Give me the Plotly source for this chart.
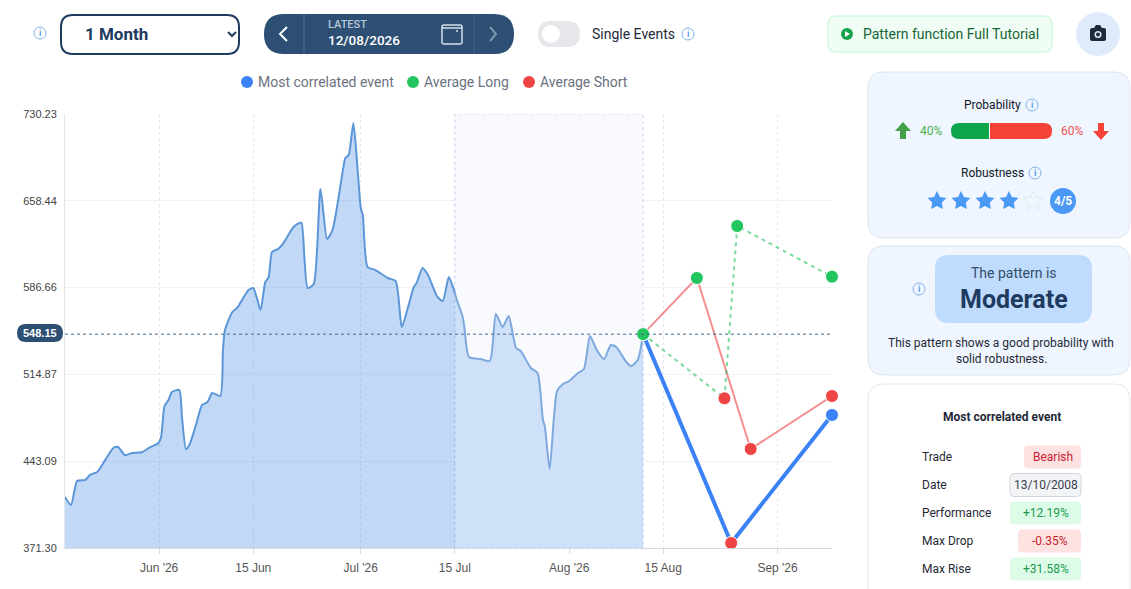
import math
import pandas as pd
import plotly.graph_objects as go

W, H = 1131, 589

start_date = pd.Timestamp('2026-05-18')
split_day = 58.0  # 15 Jul, start of the pattern window
end_day = 114.1
last_price = 548.15

# price history, days since start_date
price_days = [0, 0.9, 1.8, 3.0, 3.7, 4.8, 5.7, 7.2, 7.9, 8.9, 10.0, 11.5, 12.7, 13.9, 14.3, 14.8, 15.4, 15.9,
              17.0, 17.4, 18.0, 18.5, 19.4, 20.4, 21.2, 21.9, 23.1, 23.5, 23.8, 24.9, 25.6, 27.3, 28.0, 28.5,
              29.1, 29.8, 30.3, 30.8, 31.7, 32.5, 34.0, 34.9, 35.2, 36.1, 37.0, 38.0, 39.0, 39.8, 41.3, 41.7,
              42.2, 42.9, 43.5, 44.0, 44.3, 45.0, 46.2, 48.0, 49.2, 50.1, 51.0, 51.9, 52.3, 53.2, 54.0, 55.4,
              56.2, 57.1, 57.7, 58.0, 58.3, 59.2, 59.4, 60.1, 61.8, 63.2, 64.1, 65.1, 66.0, 67.1, 67.8, 69.3,
              70.3, 71.1, 71.4, 72.1, 73.2, 74.1, 75.0, 76.3, 77.2, 78.1, 79.1, 80.2, 81.2, 82.0, 83.5, 84.2,
              85.2, 86.0]
price_values = [413.5, 406.9, 426.7, 427.5, 431.7, 434.2, 441.6, 454.0, 454.8, 448.2, 449.9, 450.7, 454.8, 458.1,
                463.1, 488.7, 493.7, 500.3, 502.0, 479.6, 453.2, 456.5, 471.4, 489.6, 492.0, 499.5, 497.0, 535.1,
                551.6, 566.5, 569.8, 584.7, 586.3, 578.9, 568.1, 591.3, 595.4, 616.1, 618.6, 623.5, 636.8, 640.1,
                640.1, 586.3, 589.6, 668.2, 626.9, 634.3, 682.3, 693.8, 696.3, 722.8, 686.4, 652.5, 646.7, 603.7,
                601.2, 594.6, 592.1, 554.1, 569.8, 587.2, 590.5, 602.9, 597.1, 578.9, 575.6, 595.4, 587.2, 582.0,
                576.4, 561.5, 554.1, 529.3, 527.6, 526.0, 564.8, 554.1, 563.2, 536.7, 534.2, 520.2, 516.0, 477.2,
                471.4, 436.6, 501.2, 506.9, 509.4, 516.0, 519.3, 546.6, 535.1, 527.6, 539.2, 537.5, 525.1, 521.8,
                526.8, 548.15]

# projected paths
event_days = [86.0, 99.1, 114.1]
event_values = [548.15, 375.4, 481.3]
event_kinds = ['long', 'short', 'event']
short_days = [86.0, 94.0, 102.0, 114.1]
short_values = [548.15, 594.6, 453.2, 497.0]
short_kinds = ['long', 'long', 'short', 'short']
long_days = [86.0, 98.1, 100.0, 114.1]
long_values = [548.15, 495.1, 637.6, 595.7]
long_kinds = ['long', 'short', 'long', 'long']

y_ticks = [371.30, 443.09, 514.87, 586.66, 658.44, 730.23]
x_tick_dates = ['2026-06-01', '2026-06-15', '2026-07-01', '2026-07-15', '2026-08-01', '2026-08-15', '2026-09-01']
x_tick_labels = ["Jun '26", '15 Jun', "Jul '26", '15 Jul', "Aug '26", '15 Aug', "Sep '26"]

legend_names = ['Most correlated event', 'Average Long', 'Average Short']
row_labels = ['Trade', 'Date', 'Performance', 'Max Drop', 'Max Rise']
row_values = ['Bearish', '13/10/2008', '+12.19%', '-0.35%', '+31.58%']

BLUE = '#3b82f6'
GREEN = '#22c55e'
RED = '#ef4444'
NAVY = '#2c4f73'
kind_colors = {'event': BLUE, 'long': GREEN, 'short': RED}


def to_dates(days):
    return [start_date + pd.Timedelta(days=d) for d in days]


def px(x):
    return x / W


def py(y):
    return 1 - y / H


shapes = []
annotations = []


def rrect(x0, y0, x1, y1, r, fill, line=None, width=1):
    # rounded box, given in page pixels
    p = (f'M{px(x0 + r)},{py(y0)} L{px(x1 - r)},{py(y0)} Q{px(x1)},{py(y0)} {px(x1)},{py(y0 + r)} '
         f'L{px(x1)},{py(y1 - r)} Q{px(x1)},{py(y1)} {px(x1 - r)},{py(y1)} '
         f'L{px(x0 + r)},{py(y1)} Q{px(x0)},{py(y1)} {px(x0)},{py(y1 - r)} '
         f'L{px(x0)},{py(y0 + r)} Q{px(x0)},{py(y0)} {px(x0 + r)},{py(y0)} Z')
    shapes.append(dict(type='path', path=p, xref='paper', yref='paper', fillcolor=fill,
                       line=dict(color=line or 'rgba(0,0,0,0)', width=width if line else 0)))


def circle(cx, cy, r, fill='rgba(0,0,0,0)', line=None, width=1):
    shapes.append(dict(type='circle', xref='paper', yref='paper', x0=px(cx - r), x1=px(cx + r),
                       y0=py(cy + r), y1=py(cy - r), fillcolor=fill,
                       line=dict(color=line or 'rgba(0,0,0,0)', width=width if line else 0)))


def poly(points, fill='rgba(0,0,0,0)', line=None, width=1, close=True):
    p = 'M' + ' L'.join(f'{px(x)},{py(y)}' for x, y in points) + (' Z' if close else '')
    shapes.append(dict(type='path', path=p, xref='paper', yref='paper', fillcolor=fill,
                       line=dict(color=line or 'rgba(0,0,0,0)', width=width if line else 0)))


def text(x, y, s, size=12, color='#1f2937', anchor='center', weight=400, family='Roboto'):
    if anchor == 'left':
        x -= 1  # annotations keep a pixel of padding
    annotations.append(dict(x=px(x), y=py(y), xref='paper', yref='paper', text=s, showarrow=False,
                            xanchor=anchor, yanchor='middle', borderpad=0,
                            font=dict(size=size, color=color, family=family, weight=weight)))


def info(cx, cy):
    circle(cx, cy, 6, line='#7fb2ea', width=1)
    text(cx, cy, 'i', size=9, color='#5f9fe6', weight=700)


def star(cx, cy, r, fill, line=None):
    pts = []
    for i in range(10):
        rad = r if i % 2 == 0 else r * 0.5
        a = -math.pi / 2 + i * math.pi / 5
        pts.append((cx + rad * math.cos(a), cy + rad * math.sin(a)))
    poly(pts, fill=fill, line=line)


# top bar
info(40, 33)
rrect(61, 15, 239, 54, 12, 'white', line='#1e3a5f', width=2)
text(85, 34, '1 Month', size=17, color='#1e3a5f', anchor='left', weight=700)
poly([(228, 32), (232, 36), (236, 32)], line='#1e3a5f', width=2, close=False)

rrect(264, 14, 514, 54, 20, NAVY)
poly([(304, 14), (304, 54)], line='#44678a')
poly([(474, 14), (474, 54)], line='#3a5c80')
poly([(287, 27), (280, 34), (287, 41)], line='white', width=2, close=False)
poly([(490, 27), (496, 34), (490, 41)], line='#7f97b0', width=2, close=False)
text(328, 25, 'LATEST', size=11, color='#b9c9da', anchor='left', weight=500)
text(328, 40, '12/08/2026', size=13.5, color='white', anchor='left', weight=500)
rrect(442, 25, 462, 44, 2, 'rgba(0,0,0,0)', line='#d5dfea', width=1.5)
poly([(442, 28), (462, 28)], line='#d5dfea', width=1.5)
circle(457, 31, 1, fill='#d5dfea')

rrect(538, 21, 580, 47, 13, '#e5e7eb')
circle(551, 34, 9, fill='white')
text(592, 34, 'Single Events', size=14, color='#1f2937', anchor='left')
info(688, 34)

rrect(828, 16, 1052, 52, 8, '#f0fdf4', line='#bbf7d0')
circle(847, 34, 6, fill='#16a34a')
poly([(845, 31), (850, 34), (845, 37)], fill='white')
text(863, 34, 'Pattern function Full Tutorial', size=14, color='#166534', anchor='left')

circle(1098, 34, 22, fill='#dfeafa')
rrect(1090, 28, 1106, 41, 2, '#1e293b')
poly([(1094, 28), (1096, 25), (1100, 25), (1102, 28)], fill='#1e293b')
circle(1098, 34.5, 3.5, fill='#dfeafa')
circle(1098, 34.5, 2, fill='#1e293b')

# legend row
for lx, name, col in zip([247, 413, 529], legend_names, [BLUE, GREEN, RED]):
    circle(lx, 82, 6, fill=col)
    text(lx + 11, 82, name, size=14, color='#6b7280', anchor='left')

# probability panel
rrect(868, 72, 1130, 238, 16, '#eff6ff', line='#dbe5ef')
text(992, 105, 'Probability', size=12, color='#111827')
info(1032, 105)
poly([(903, 122), (911, 131), (906, 131), (906, 139), (900, 139), (900, 131), (895, 131)], fill='#43a047')
text(931, 131, '40%', size=12, color='#4caf50')
rrect(951, 123, 995, 139, 8, '#0ea54a')
rrect(982, 123, 1052, 139, 8, '#f44336')
poly([(980, 123), (989, 123), (989, 139), (980, 139)], fill='#0ea54a')
poly([(990, 123), (1000, 123), (1000, 139), (990, 139)], fill='#f44336')
poly([(989, 123), (990, 123), (990, 139), (989, 139)], fill='white')
text(1072, 131, '60%', size=12, color='#ef5350')
poly([(1101, 140), (1093, 131), (1098, 131), (1098, 123), (1104, 123), (1104, 131), (1109, 131)], fill='#f44336')

text(992, 173, 'Robustness', size=12, color='#111827')
info(1035, 173)
for sx in [937, 961, 985, 1009]:
    star(sx, 201, 10, '#4a9af5')
star(1033, 201, 10, 'rgba(0,0,0,0)', line='#e2e8f0')
circle(1063, 201, 13, fill='#4a9af5')
text(1063, 201, '4/5', size=12, color='white', weight=700)

# pattern panel
rrect(868, 246, 1130, 375, 16, '#eff6ff', line='#dbe5ef')
rrect(935, 255, 1092, 323, 14, '#bfdbfe')
info(919, 289)
text(1013.5, 273, 'The pattern is', size=14, color='#334e68')
text(1013.5, 299, 'Moderate', size=25, color='#1e3a5f', weight=700)
text(1001, 343, 'This pattern shows a good probability with', size=12, color='#1f2937')
text(1001, 359, 'solid robustness.', size=12, color='#1f2937')

# event table
rrect(868, 384, 1130, 620, 16, 'white', line='#e5e7eb')
text(1001.5, 417, 'Most correlated event', size=12, color='#1f2937', weight=700)
row_y = [457, 485, 513, 541, 569]
row_left = [1024, 1010, 1010, 1018, 1010]
row_fill = ['#fee2e2', '#f3f4f6', '#dcfce7', '#fee2e2', '#dcfce7']
row_ink = ['#c81e2e', '#374151', '#1a9a50', '#c81e2e', '#1a9a50']
for label, value, ry, left, fill, ink in zip(row_labels, row_values, row_y, row_left, row_fill, row_ink):
    text(922, ry, label, size=12, color='#1f2937', anchor='left')
    rrect(left, ry - 11.5, 1081, ry + 11.5, 4, fill, line='#d1d5db' if value == '13/10/2008' else None)
    text((left + 1081) / 2, ry, value, size=12, color=ink)

# price badge on the y axis
rrect(17, 324, 63, 342, 9, NAVY)
text(40, 333, f'{last_price:.2f}', size=11, color='white', weight=700, family='Liberation Sans')

# pattern window and last price line
shapes.append(dict(type='rect', xref='x', yref='y', layer='between', x0=to_dates([split_day])[0],
                   x1=to_dates([86.0])[0], y0=y_ticks[0], y1=y_ticks[-1], fillcolor='#f8fafe',
                   line=dict(color='#c6d6ec', width=1, dash='dot')))
shapes.append(dict(type='line', xref='x', yref='y', layer='above', x0=start_date,
                   x1=to_dates([end_day])[0], y0=last_price, y1=last_price,
                   line=dict(color='#46688c', width=1, dash='dot')))

fig = go.Figure()

days = pd.Series(price_days)
vals = pd.Series(price_values)
before = days <= split_day
after = days >= split_day

fig.add_trace(go.Scatter(x=to_dates(days[before]), y=vals[before], mode='lines', fill='tozeroy',
                         fillcolor='rgba(66,133,230,0.32)', line=dict(color='#5b96d8', width=2, shape='spline', smoothing=0.6),
                         name='Price'))
fig.add_trace(go.Scatter(x=to_dates(days[after]), y=vals[after], mode='lines', fill='tozeroy',
                         fillcolor='rgba(66,133,230,0.22)', line=dict(color='#7ea9de', width=2, shape='spline', smoothing=0.6),
                         name='Pattern window'))

fig.add_trace(go.Scatter(x=to_dates(short_days), y=short_values, mode='lines', name='Average Short',
                         line=dict(color='rgba(239,68,68,0.6)', width=2)))
fig.add_trace(go.Scatter(x=to_dates(long_days), y=long_values, mode='lines', name='Average Long',
                         line=dict(color='rgba(34,197,94,0.6)', width=2, dash='4px,4px')))
fig.add_trace(go.Scatter(x=to_dates(event_days), y=event_values, mode='lines', name='Most correlated event',
                         line=dict(color=BLUE, width=4)))

# markers go on top of every line
for d, v, k in [(short_days, short_values, short_kinds), (long_days, long_values, long_kinds),
                (event_days, event_values, event_kinds)]:
    fig.add_trace(go.Scatter(x=to_dates(d), y=v, mode='markers', cliponaxis=False,
                             marker=dict(size=13, color=[kind_colors[c] for c in k],
                                         line=dict(color='white', width=1))))

fig.update_layout(
    width=W, height=H,
    margin=dict(l=0, r=0, t=0, b=0),
    paper_bgcolor='white',
    plot_bgcolor='white',
    showlegend=False,
    hovermode=False,
    shapes=shapes,
    annotations=annotations,
    font=dict(family='Liberation Sans', size=11, color='#444444'),
    xaxis=dict(domain=[px(65), px(832)], range=[start_date, to_dates([end_day])[0]], type='date',
               automargin=False, tickvals=x_tick_dates, ticktext=x_tick_labels, ticks='outside', ticklen=5,
               tickcolor='#d5dbe3', tickfont=dict(size=12, color='#555555'), ticklabelstandoff=4,
               showline=True, linecolor='#d5dbe3', showgrid=True, gridcolor='#e4e9f0', griddash='dot',
               zeroline=False),
    yaxis=dict(domain=[py(548), py(114)], range=[y_ticks[0], y_ticks[-1]], automargin=False,
               tickvals=y_ticks, ticktext=[f'{t:.2f}' for t in y_ticks], ticks='', ticklabelstandoff=5,
               showline=True, linecolor='#e1e6ec', showgrid=True, gridcolor='#f0f2f5', zeroline=False),
)

fig.write_html('out.html', config=dict(displayModeBar=False),
               post_script="document.body.style.margin='0';document.body.style.overflow='hidden';")
